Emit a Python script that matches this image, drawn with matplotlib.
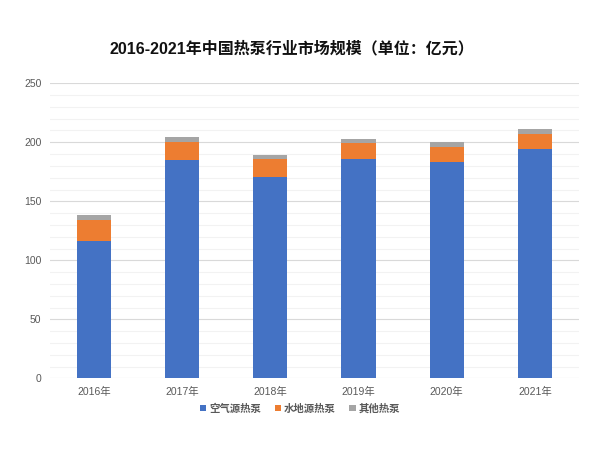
import matplotlib
matplotlib.use('Agg')
import matplotlib.pyplot as plt
import numpy as np

plt.rcParams['font.family'] = ['Liberation Sans', 'Noto Sans CJK SC', 'DejaVu Sans']

years = ['2016年', '2017年', '2018年', '2019年', '2020年', '2021年']
air = [116, 185, 171, 186, 183, 194]
water = [18, 15.5, 14.5, 13, 13, 13]
other = [4, 4, 4, 4, 4, 4]
series_names = ['空气源热泵', '水地源热泵', '其他热泵']

fig = plt.figure(figsize=(6, 4.5), dpi=100)
ax = fig.add_axes([0.083, 0.159, 0.882, 0.656])

x = np.arange(len(years))
air = np.array(air)
water = np.array(water)
other = np.array(other)
w = 0.39
ax.bar(x, air, w, color='#4472C4', label=series_names[0], zorder=3)
ax.bar(x, water, w, bottom=air, color='#ED7D31', label=series_names[1], zorder=3)
ax.bar(x, other, w, bottom=air + water, color='#A5A5A5', label=series_names[2], zorder=3)

ax.set_xlim(-0.5, len(years) - 0.5)
ax.set_ylim(0, 250)
ax.set_yticks(np.arange(0, 251, 50))
ax.set_yticks(np.arange(0, 251, 10), minor=True)
ax.grid(axis='y', which='major', color='#D9D9D9', lw=0.8, zorder=0)
ax.grid(axis='y', which='minor', color='#F2F2F2', lw=0.8, zorder=0)
ax.set_xticks(x)
ax.set_xticklabels(years)
ax.tick_params(axis='both', which='both', length=0, labelsize=7.5, colors='#595959', pad=6)
for s in ax.spines.values():
    s.set_visible(False)

fig.suptitle('2016-2021年中国热泵行业市场规模（单位：亿元）', x=0.487, y=0.91,
             fontsize=11.5, fontweight='bold', color='#111111')

leg = fig.legend(loc='center', bbox_to_anchor=(0.5, 0.092), ncol=3, frameon=False,
                 fontsize=7.5, handlelength=0.6, handleheight=0.6, handletextpad=0.3,
                 columnspacing=1.3)
for t in leg.get_texts():
    t.set_color('#595959')
    t.set_fontweight('bold')

fig.savefig('out.png', dpi=100)
